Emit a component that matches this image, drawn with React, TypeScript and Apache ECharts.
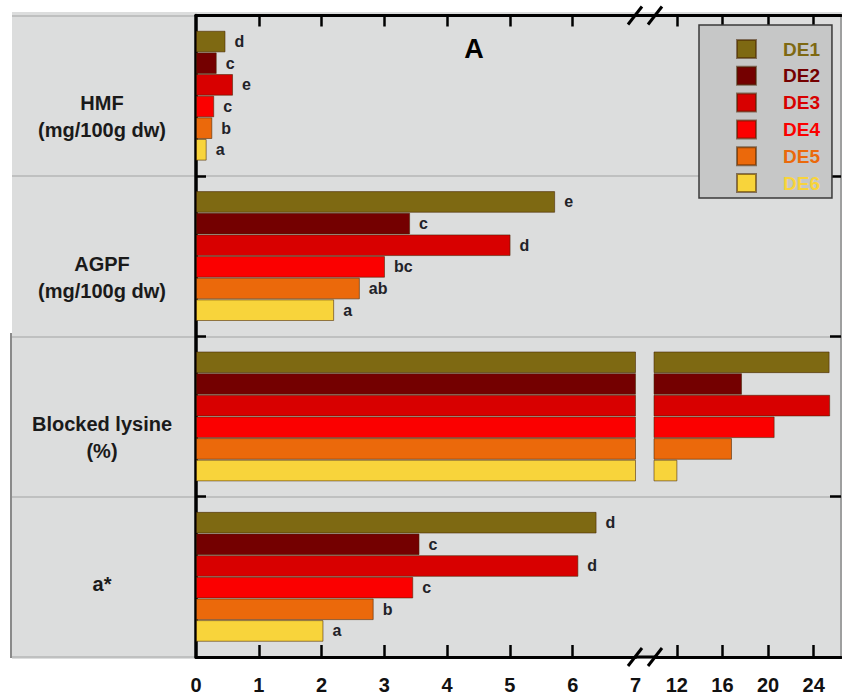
import React, { useEffect, useRef } from 'react';
import * as echarts from 'echarts';

const categories = ['HMF', 'AGPF', 'Blocked lysine', 'a*'];
const categoryUnits = ['(mg/100g dw)', '(mg/100g dw)', '(%)', ''];
const seriesNames = ['DE1', 'DE2', 'DE3', 'DE4', 'DE5', 'DE6'];
const seriesColors = ['#7e6912', '#740000', '#d80000', '#fb0000', '#eb690b', '#f8d43b'];

const hmf = [0.47, 0.33, 0.59, 0.29, 0.26, 0.17];
const agpf = [5.72, 3.41, 5.01, 3.01, 2.61, 2.2];
const blockedLysine = [25.4, 17.72, 25.45, 20.58, 16.84, 12.05];
const aStar = [6.38, 3.56, 6.09, 3.46, 2.83, 2.03];

const hmfLetters = ['d', 'c', 'e', 'c', 'b', 'a'];
const agpfLetters = ['e', 'c', 'd', 'bc', 'ab', 'a'];
const blockedLysineLetters = ['', '', '', '', '', ''];
const aStarLetters = ['d', 'c', 'd', 'c', 'b', 'a'];

const lowTicks = [0, 1, 2, 3, 4, 5, 6, 7];
const lowInnerTicks = [1, 2, 3, 4, 5, 6];
const highTicks = [12, 16, 20, 24];
const lowRange = [0, 7];
const highRange = [10, 26.4];

const valuesByCategory = [hmf, agpf, blockedLysine, aStar];
const lettersByCategory = [hmfLetters, agpfLetters, blockedLysineLetters, aStarLetters];

const FONT = "'Liberation Sans', Arial, Helvetica, sans-serif";
const BG = '#dcdddd';

export default function App() {
  const ref = useRef<HTMLDivElement>(null);
  useEffect(() => {
    if (!ref.current) return;
    const chart = echarts.init(ref.current, null, { renderer: 'svg' });

    const gridTop = 15.5;
    const gridBottom = 39;

    const lowSeries = seriesNames.map((name, i) => ({
      type: 'bar',
      name,
      xAxisIndex: 0,
      yAxisIndex: 0,
      clip: true,
      barGap: '0%',
      barCategoryGap: '19%',
      data: valuesByCategory.map((v) => v[i]),
      itemStyle: { color: seriesColors[i], borderColor: 'rgba(70,35,0,0.55)', borderWidth: 1 },
      label: {
        show: true,
        position: 'right',
        distance: 9,
        formatter: (p: any) => lettersByCategory[p.dataIndex][i],
        fontFamily: FONT,
        fontSize: 16,
        fontWeight: 'bold',
        color: '#222228',
      },
    }));

    const highSeries = seriesNames.map((name, i) => ({
      type: 'bar',
      name,
      xAxisIndex: 2,
      yAxisIndex: 1,
      clip: true,
      barGap: '0%',
      barCategoryGap: '19%',
      data: valuesByCategory.map((v) => (v[i] > lowRange[1] ? v[i] : '-')),
      itemStyle: { color: seriesColors[i], borderColor: 'rgba(70,35,0,0.55)', borderWidth: 1 },
    }));

    const axisLineBlack = { show: true, lineStyle: { color: '#000', width: 3 } };
    const tickLabel = { fontFamily: FONT, fontSize: 20, fontWeight: 'bold', color: '#111' };

    const option: any = {
      animation: false,
      backgroundColor: '#ffffff',
      grid: [
        { left: 196, right: 206.5, top: gridTop, bottom: gridBottom, containLabel: false },
        { left: 654, right: 1, top: gridTop, bottom: gridBottom, containLabel: false },
        { left: 12, right: 0, top: gridTop, bottom: gridBottom, containLabel: false },
      ],
      legend: {
        orient: 'vertical',
        left: 699,
        top: 25,
        padding: [14, 12, 5, 37],
        itemWidth: 19,
        itemHeight: 18,
        itemGap: 6.8,
        icon: 'rect',
        backgroundColor: '#c6c7c7',
        borderColor: '#3a3a3a',
        borderWidth: 1.5,
        data: seriesNames.map((n, i) => ({ name: n, textStyle: { color: seriesColors[i] } })),
        textStyle: { fontFamily: FONT, fontSize: 19, fontWeight: 'bold', padding: [0, 0, 0, 22] },
      },
      xAxis: [
        {
          type: 'value', gridIndex: 0, position: 'bottom', min: lowRange[0], max: lowRange[1],
          axisLine: axisLineBlack,
          axisTick: { show: true, inside: true, length: 12, lineStyle: { color: '#000', width: 2.5 }, customValues: lowInnerTicks },
          axisLabel: { ...tickLabel, margin: 18, customValues: lowTicks },
          splitLine: { show: false },
        },
        {
          type: 'value', gridIndex: 0, position: 'top', min: lowRange[0], max: lowRange[1],
          axisLine: axisLineBlack,
          axisTick: { show: true, inside: true, length: 11, lineStyle: { color: '#000', width: 2.5 }, customValues: lowInnerTicks },
          axisLabel: { show: false },
          splitLine: { show: false },
        },
        {
          type: 'value', gridIndex: 1, position: 'bottom', min: highRange[0], max: highRange[1],
          axisLine: axisLineBlack,
          axisTick: { show: true, inside: true, length: 12, lineStyle: { color: '#000', width: 2.5 }, customValues: highTicks },
          axisLabel: { ...tickLabel, margin: 18, customValues: highTicks },
          splitLine: { show: false },
        },
        {
          type: 'value', gridIndex: 1, position: 'top', min: highRange[0], max: highRange[1],
          axisLine: axisLineBlack,
          axisTick: { show: true, inside: true, length: 11, lineStyle: { color: '#000', width: 2.5 }, customValues: highTicks },
          axisLabel: { show: false },
          splitLine: { show: false },
        },
        {
          type: 'value', gridIndex: 2, show: false, min: 0, max: 1,
        },
      ],
      yAxis: [
        {
          type: 'category', gridIndex: 0, inverse: true, position: 'left',
          data: categories,
          axisLine: { show: true, lineStyle: { color: '#000', width: 3.5 } },
          axisTick: { show: true, inside: true, length: 10, lineStyle: { color: '#000', width: 2.5 } },
          axisLabel: {
            interval: 0,
            margin: 94,
            align: 'center',
            verticalAlign: 'top',
            formatter: (value: string, index: number) =>
              categoryUnits[index] ? `{t|${value}}\n{u|${categoryUnits[index]}}` : `{t|${value}}`,
            rich: {
              t: { fontFamily: FONT, fontSize: 20, fontWeight: 'bold', color: '#1a1a1a', lineHeight: 15, align: 'center' },
              u: { fontFamily: FONT, fontSize: 20, fontWeight: 'bold', color: '#1a1a1a', lineHeight: 39, align: 'center' },
            },
          },
          splitLine: { show: false },
        },
        {
          type: 'category', gridIndex: 1, inverse: true, position: 'right',
          data: categories,
          axisLine: { show: true, lineStyle: { color: '#8a8a8a', width: 1.5 } },
          axisTick: { show: true, inside: true, length: 11, lineStyle: { color: '#000', width: 2.5 } },
          axisLabel: { show: false },
          splitLine: { show: false },
        },
        {
          type: 'category', gridIndex: 2, inverse: true,
          data: categories,
          axisLine: { show: false },
          axisTick: { show: false },
          axisLabel: { show: false },
          splitLine: { show: true, lineStyle: { color: '#b6b6b6', width: 1.5 } },
        },
      ],
      graphic: [
        { type: 'rect', z: -100, shape: { x: 12, y: 12, width: 830, height: 647 }, style: { fill: BG } },
        { type: 'line', z: 10, shape: { x1: 11, y1: 333, x2: 11, y2: 658 }, style: { stroke: '#8a8a8a', lineWidth: 2 } },
        { type: 'line', z: 10, shape: { x1: 635, y1: 15.5, x2: 655, y2: 15.5 }, style: { stroke: '#000', lineWidth: 3 } },
        { type: 'line', z: 10, shape: { x1: 635, y1: 657, x2: 655, y2: 657 }, style: { stroke: '#000', lineWidth: 3 } },
        { type: 'line', z: 10, shape: { x1: 628, y1: 24.5, x2: 642, y2: 6.5 }, style: { stroke: '#000', lineWidth: 3 } },
        { type: 'line', z: 10, shape: { x1: 648, y1: 24.5, x2: 662, y2: 6.5 }, style: { stroke: '#000', lineWidth: 3 } },
        { type: 'line', z: 10, shape: { x1: 628, y1: 666, x2: 642, y2: 648 }, style: { stroke: '#000', lineWidth: 3 } },
        { type: 'line', z: 10, shape: { x1: 648, y1: 666, x2: 662, y2: 648 }, style: { stroke: '#000', lineWidth: 3 } },
        {
          type: 'text', z: 10, x: 474, y: 49,
          style: { text: 'A', fontFamily: FONT, fontSize: 27, fontWeight: 'bold', fill: '#000', align: 'center', verticalAlign: 'middle' },
        },
      ],
      series: [...lowSeries, ...highSeries],
    };

    chart.setOption(option);
    return () => chart.dispose();
  }, []);

  return (
    <div
      ref={ref}
      style={{ position: 'absolute', left: 0, top: 0, width: 842, height: 696, background: '#fff' }}
    />
  );
}
